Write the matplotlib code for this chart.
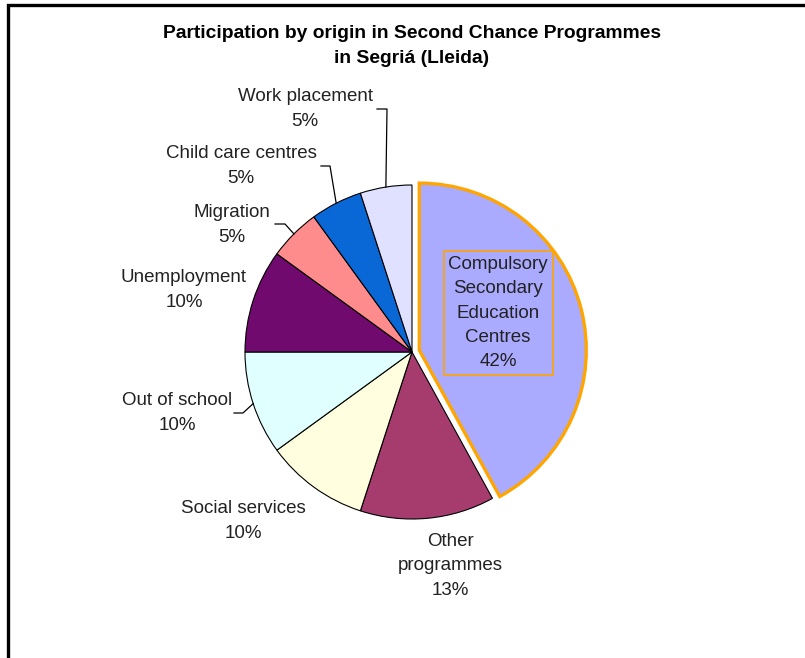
import numpy as np
import matplotlib.pyplot as plt
from matplotlib.patches import Rectangle

plt.rcParams['font.family'] = ['Liberation Sans', 'DejaVu Sans']

# data, clockwise from 12 o'clock
labels = ['Compulsory\nSecondary\nEducation\nCentres', 'Other\nprogrammes', 'Social services',
          'Out of school', 'Unemployment', 'Migration', 'Child care centres', 'Work placement']
values = [42, 13, 10, 10, 10, 5, 5, 5]
colors = ['#AAAAFF', '#A63C6E', '#FFFFE0', '#E0FFFF', '#700A6E', '#FF8C8C', '#0A68D6', '#E0E0FF']

W, H = 805, 658
CX, CY, R = 412, 352, 167  # pie centre and radius in pixels


def px(x, y):
    # pixel position -> data coords (radius = 1)
    return (x - CX) / R, (CY - y) / R


fig = plt.figure(figsize=(W / 100, H / 100), dpi=100)
ax = fig.add_axes([0, 0, 1, 1])

# outer frame
fig.patches.append(Rectangle((7.5 / W, -0.1), 1.2, 1.1 - 5.5 / H, transform=fig.transFigure,
                             fill=False, edgecolor='black', linewidth=2.4))

explode = [0.045] + [0] * (len(values) - 1)
wedges, _ = ax.pie(values, colors=colors, startangle=90, counterclock=False, explode=explode,
                   radius=1, center=(0, 0), frame=True,
                   wedgeprops=dict(edgecolor='black', linewidth=0.8))
ax.set_xlim(-CX / R, (W - CX) / R)
ax.set_ylim((CY - H) / R, CY / R)
ax.set_aspect('auto')
ax.axis('off')
wedges[0].set_edgecolor('#FFA500')
wedges[0].set_linewidth(2.4)

fs = 13.5
# title
ax.text(*px(412, 46), 'Participation by origin in Second Chance Programmes\nin Segriá (Lleida)',
        ha='center', va='center', fontsize=13.9, fontweight='bold', linespacing=1.54)

# label positions (pixels) and leader elbows
label_pos = [(498, 313), (450, 566), (243, 521), (177, 413), (184, 290), (232, 225), (241, 166), (305, 109)]
elbows = {3: [(243, 413), (234, 413)], 5: [(285, 224), (275, 224)],
          6: [(330, 166), (321, 166)], 7: [(387, 109), (377, 109)]}

for i, (lab, v) in enumerate(zip(labels, values)):
    x, y = px(*label_pos[i])
    txt = f'{lab}\n{v}%'
    if i == 0:
        ax.text(x, y, txt, ha='center', va='center', fontsize=fs, color='#222222', linespacing=1.56,
                bbox=dict(boxstyle='square,pad=0.25', facecolor='none', edgecolor='#FFA500', linewidth=1.2))
    else:
        ax.text(x, y, txt, ha='center', va='center', fontsize=fs, color='#222222', linespacing=1.56)
    if i in elbows:
        w = wedges[i]
        mid = np.deg2rad((w.theta1 + w.theta2) / 2)
        pts = [(np.cos(mid), np.sin(mid))] + [px(*p) for p in elbows[i]]
        ax.plot([p[0] for p in pts], [p[1] for p in pts], color='black', linewidth=0.9)

fig.savefig('out.png', dpi=100)
